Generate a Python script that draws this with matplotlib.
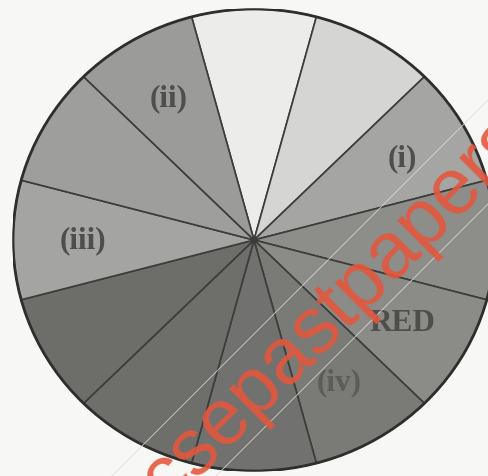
import matplotlib
matplotlib.use("Agg")
import matplotlib.pyplot as plt
from matplotlib.lines import Line2D

# ---- data -------------------------------------------------------------
# twelve equal segments of the wheel, clockwise from the top (white) one
segments = [1, 1, 1, 1, 1, 1, 1, 1, 1, 1, 1, 1]
segment_labels = ["", "", "(i)", "", "RED", "(iv)", "", "", "", "(iii)", "", "(ii)"]
segment_shades = ["#ececea", "#d5d5d3", "#a5a5a3", "#8d8d8a", "#8b8b88", "#7a7a77",
                  "#717170", "#6e6e6b", "#6d6d6a", "#a4a4a2", "#9e9e9c", "#9b9b99"]
watermark = "csepastpapers"

# ---- figure -----------------------------------------------------------
W, H = 489, 477
fig = plt.figure(figsize=(W / 100, H / 100), dpi=100, facecolor="#f7f7f5")
ax = fig.add_axes([13 / W, 5 / H, 482 / W, 462 / H])
ax.set_facecolor("none")

wedges, texts = ax.pie(
    segments,
    labels=segment_labels,
    colors=segment_shades,
    startangle=105,
    counterclock=False,
    labeldistance=0.71,
    radius=1.0,
    wedgeprops=dict(edgecolor="#3c3c3a", linewidth=1.2),
    textprops=dict(family="Liberation Serif", fontweight="bold",
                   fontsize=22.5, color="#4e4e4c"),
)
for t in texts:
    t.set_ha("center")
    t.set_va("center")
for t, lab in zip(texts, segment_labels):
    if lab == "(iv)":
        t.set_color("#5c5c5a")

# outer rim
rim = plt.Circle((0, 0), 1.0, fill=False, edgecolor="#2e2e2c", linewidth=2.0)
ax.add_patch(rim)

ax.set_aspect("auto")
ax.set_xlim(-1, 1)
ax.set_ylim(-1, 1)
ax.axis("off")

# watermark guide lines (faint) and text
for s in (589, 693):
    fig.add_artist(Line2D([(s - H) / W, 1.0], [0.0, 1 - (s - W) / H],
                          transform=fig.transFigure, color="#dcdcda",
                          linewidth=0.6, alpha=0.9))
fig.text(168 / W, 1 - 506 / H, watermark, rotation=45, rotation_mode="anchor",
         ha="left", va="baseline", family="Liberation Sans", fontsize=57,
         color="#e4573c", alpha=0.9)

fig.savefig("out.png", dpi=100, facecolor=fig.get_facecolor())
